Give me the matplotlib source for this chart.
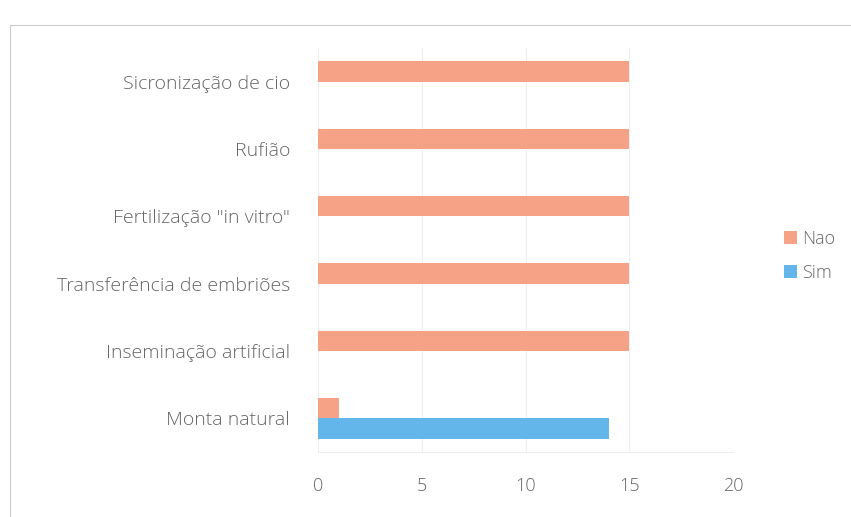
import matplotlib
matplotlib.use("Agg")
import matplotlib.pyplot as plt
from matplotlib.patches import Rectangle
import numpy as np

categories = ["Monta natural", "Inseminação artificial", "Transferência de embriões",
              "Fertilização \"in vitro\"", "Rufião", "Sicronização de cio"]
nao = [1, 15, 15, 15, 15, 15]
sim = [14, 0, 0, 0, 0, 0]
xticks = [0, 5, 10, 15, 20]

plt.rcParams['font.family'] = ['Open Sans', 'DejaVu Sans']
plt.rcParams['font.weight'] = 300
text_color = "#666666"

fig = plt.figure(figsize=(8.51, 5.17), dpi=100)
fig.patch.set_facecolor("white")
# outer chart border
fig.add_artist(Rectangle((10/851, -0.05), 1.0, 1 - 25/517 + 0.05, transform=fig.transFigure,
                         fill=False, edgecolor="#cccccc", linewidth=0.8))

ax = fig.add_axes([318/851, 1 - 452/517, (733 - 318)/851, (452 - 48)/517])
y = np.arange(len(categories))
h = 0.3
ax.barh(y + h/2, nao, height=h, color="#F5A286", label="Nao", zorder=3)
ax.barh(y - h/2, sim, height=h, color="#62B6EA", label="Sim", zorder=3)

ax.set_xlim(0, 20)
ax.set_ylim(-0.5, len(categories) - 0.5)
ax.set_xticks(xticks)
ax.set_xticklabels([str(t) for t in xticks])
ax.set_yticks(y)
ax.set_yticklabels(categories)
ax.tick_params(axis='x', length=0, pad=18, labelsize=13, colors=text_color)
ax.tick_params(axis='y', length=0, pad=20, labelsize=14, colors=text_color)
ax.grid(axis='x', color="#eeeeee", linewidth=0.8, zorder=0)
for s in ax.spines.values():
    s.set_visible(False)
ax.spines['bottom'].set_visible(True)
ax.spines['bottom'].set_color("#eeeeee")

handles, labels = ax.get_legend_handles_labels()
leg = fig.legend(handles, labels, loc="center left", bbox_to_anchor=(768/851, 1 - 256/517),
                 frameon=False, fontsize=13, handlelength=0.7, handleheight=0.7,
                 handletextpad=0.3, labelspacing=0.9, labelcolor=text_color)

fig.savefig("out.png", dpi=100)
